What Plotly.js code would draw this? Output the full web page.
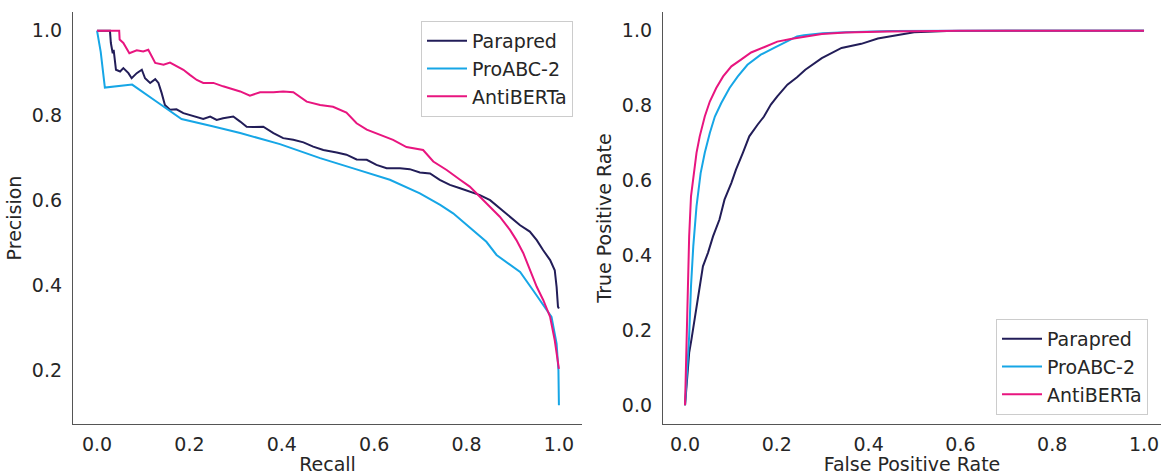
<!DOCTYPE html>
<html>
<head>
<meta charset="utf-8">
<script src="https://cdn.plot.ly/plotly-3.0.1.min.js"></script>
<style>html,body{margin:0;padding:0;background:#fff;}#chart{width:1161px;height:475px;}</style>
</head>
<body>
<div id="chart"></div>
<script>
// ---- Data ----
const seriesNames = ["Parapred", "ProABC-2", "AntiBERTa"];
const seriesColors = ["#221d58", "#16a6e6", "#e8157f"];

// Precision-Recall curves
const prParapredRecall = [0, 0.028, 0.030, 0.034, 0.036, 0.041, 0.050, 0.057, 0.068, 0.075, 0.086, 0.097, 0.104, 0.115, 0.126, 0.133, 0.140, 0.147, 0.158, 0.172, 0.187, 0.201, 0.216, 0.230, 0.245, 0.259, 0.273, 0.295, 0.310, 0.324, 0.338, 0.360, 0.382, 0.403, 0.425, 0.447, 0.468, 0.490, 0.519, 0.540, 0.562, 0.584, 0.605, 0.627, 0.656, 0.677, 0.699, 0.721, 0.742, 0.764, 0.786, 0.807, 0.829, 0.851, 0.872, 0.894, 0.916, 0.937, 0.952, 0.966, 0.981, 0.991, 0.995, 0.998, 1.0];
const prParapredPrecision = [1.0, 1.0, 0.971, 0.947, 0.955, 0.908, 0.904, 0.912, 0.900, 0.888, 0.900, 0.908, 0.888, 0.877, 0.886, 0.877, 0.853, 0.825, 0.814, 0.815, 0.806, 0.802, 0.796, 0.792, 0.798, 0.790, 0.794, 0.798, 0.786, 0.774, 0.773, 0.774, 0.759, 0.747, 0.743, 0.737, 0.727, 0.719, 0.713, 0.708, 0.697, 0.696, 0.684, 0.676, 0.676, 0.674, 0.666, 0.664, 0.649, 0.637, 0.629, 0.621, 0.613, 0.601, 0.582, 0.562, 0.542, 0.527, 0.507, 0.483, 0.460, 0.436, 0.397, 0.350, 0.346];

const prProabcRecall = [0, 0.008, 0.017, 0.076, 0.13, 0.183, 0.25, 0.31, 0.396, 0.483, 0.56, 0.634, 0.699, 0.743, 0.771, 0.80, 0.843, 0.865, 0.916, 0.944, 0.966, 0.984, 0.995, 0.999, 1.0];
const prProabcPrecision = [1.0, 0.95, 0.866, 0.873, 0.832, 0.792, 0.775, 0.759, 0.733, 0.700, 0.674, 0.649, 0.617, 0.590, 0.570, 0.543, 0.503, 0.472, 0.432, 0.389, 0.354, 0.326, 0.263, 0.200, 0.118];

const prAntibertaRecall = [0, 0.048, 0.049, 0.057, 0.070, 0.086, 0.100, 0.111, 0.126, 0.144, 0.158, 0.172, 0.187, 0.201, 0.216, 0.230, 0.252, 0.273, 0.295, 0.310, 0.331, 0.353, 0.382, 0.403, 0.425, 0.454, 0.483, 0.511, 0.540, 0.562, 0.584, 0.613, 0.641, 0.670, 0.699, 0.706, 0.728, 0.757, 0.786, 0.807, 0.829, 0.851, 0.872, 0.894, 0.908, 0.923, 0.937, 0.952, 0.966, 0.981, 0.991, 0.996, 1.0];
const prAntibertaPrecision = [1.0, 1.0, 0.979, 0.971, 0.947, 0.954, 0.951, 0.955, 0.924, 0.920, 0.925, 0.916, 0.908, 0.896, 0.884, 0.877, 0.877, 0.869, 0.861, 0.857, 0.847, 0.855, 0.855, 0.857, 0.855, 0.833, 0.825, 0.821, 0.807, 0.782, 0.767, 0.755, 0.743, 0.726, 0.721, 0.719, 0.692, 0.672, 0.649, 0.633, 0.609, 0.586, 0.562, 0.531, 0.507, 0.476, 0.436, 0.397, 0.366, 0.326, 0.271, 0.232, 0.204];

// ROC curves
const rocParapredFpr = [0, 0.006, 0.009, 0.014, 0.022, 0.029, 0.039, 0.050, 0.061, 0.075, 0.086, 0.101, 0.111, 0.126, 0.140, 0.158, 0.172, 0.187, 0.201, 0.223, 0.244, 0.262, 0.298, 0.341, 0.384, 0.420, 0.463, 0.499, 0.571, 0.7, 1.0];
const rocParapredTpr = [0, 0.096, 0.140, 0.176, 0.238, 0.300, 0.371, 0.407, 0.451, 0.496, 0.549, 0.594, 0.629, 0.674, 0.718, 0.749, 0.771, 0.803, 0.825, 0.856, 0.876, 0.896, 0.927, 0.954, 0.965, 0.979, 0.989, 0.996, 0.999, 1.0, 1.0];

const rocProabcFpr = [0, 0.009, 0.013, 0.018, 0.025, 0.034, 0.043, 0.054, 0.065, 0.079, 0.097, 0.115, 0.136, 0.165, 0.194, 0.223, 0.244, 0.259, 0.30, 0.35, 0.45, 0.6, 1.0];
const rocProabcTpr = [0, 0.185, 0.318, 0.425, 0.531, 0.620, 0.674, 0.727, 0.771, 0.807, 0.847, 0.878, 0.909, 0.936, 0.954, 0.971, 0.985, 0.988, 0.993, 0.996, 0.999, 1.0, 1.0];

const rocAntibertaFpr = [0, 0.006, 0.009, 0.013, 0.018, 0.025, 0.032, 0.043, 0.054, 0.068, 0.083, 0.101, 0.122, 0.144, 0.172, 0.201, 0.230, 0.259, 0.298, 0.35, 0.442, 0.6, 1.0];
const rocAntibertaTpr = [0, 0.318, 0.451, 0.558, 0.611, 0.674, 0.718, 0.771, 0.811, 0.847, 0.878, 0.905, 0.923, 0.942, 0.956, 0.971, 0.978, 0.984, 0.991, 0.995, 0.998, 1.0, 1.0];

const tickValsPR = [0.2, 0.4, 0.6, 0.8, 1.0];
const tickValsUnit = [0.0, 0.2, 0.4, 0.6, 0.8, 1.0];

// ---- Traces ----
const prX = [prParapredRecall, prProabcRecall, prAntibertaRecall];
const prY = [prParapredPrecision, prProabcPrecision, prAntibertaPrecision];
const rocX = [rocParapredFpr, rocProabcFpr, rocAntibertaFpr];
const rocY = [rocParapredTpr, rocProabcTpr, rocAntibertaTpr];

const traces = [];
for (let i = 0; i < 3; i++) {
  traces.push({x: prX[i], y: prY[i], type: 'scatter', mode: 'lines', name: seriesNames[i],
    line: {color: seriesColors[i], width: 2}, xaxis: 'x', yaxis: 'y', legend: 'legend'});
}
for (let i = 0; i < 3; i++) {
  traces.push({x: rocX[i], y: rocY[i], type: 'scatter', mode: 'lines', name: seriesNames[i],
    line: {color: seriesColors[i], width: 2}, xaxis: 'x2', yaxis: 'y2', legend: 'legend2'});
}

const FONT = 'DejaVu Sans, sans-serif';
const TXT = '#262626';
const FS = 19;
const axisBase = {
  showline: true, linecolor: '#555555', linewidth: 1.25, mirror: false,
  showgrid: false, zeroline: false, ticks: '', tickformat: '.1f',
  tickfont: {family: FONT, size: FS, color: TXT}, ticklabeloverflow: 'allow',
  automargin: false, fixedrange: true
};
const legendBase = {
  bgcolor: 'rgba(255,255,255,0.9)', bordercolor: '#cccccc', borderwidth: 1,
  font: {family: FONT, size: FS, color: TXT}, itemwidth: 40, tracegroupgap: 0
};
const titleFont = {family: FONT, size: FS, color: TXT};

const layout = {
  width: 1161, height: 475,
  margin: {l: 0, r: 0, t: 0, b: 0, autoexpand: false},
  paper_bgcolor: '#ffffff', plot_bgcolor: '#ffffff',
  font: {family: FONT, size: FS, color: TXT},
  xaxis: Object.assign({}, axisBase, {domain: [73/1161, 582/1161], range: [-0.052, 1.05], anchor: 'y',
    tickvals: tickValsUnit, ticklabelstandoff: 3, title: {text: 'Recall', standoff: 4, font: titleFont}}),
  yaxis: Object.assign({}, axisBase, {domain: [1 - 424/475, 1 - 12/475], range: [0.074, 1.044], anchor: 'x',
    tickvals: tickValsPR, ticklabelstandoff: 6, title: {text: 'Precision', standoff: 5, font: titleFont}}),
  xaxis2: Object.assign({}, axisBase, {domain: [663/1161, 1.0], range: [-0.048, 1.037], anchor: 'y2',
    tickvals: tickValsUnit, ticklabelstandoff: 3, title: {text: 'False Positive Rate', standoff: 4, font: titleFont}}),
  yaxis2: Object.assign({}, axisBase, {domain: [1 - 424/475, 1 - 12/475], range: [-0.05, 1.05], anchor: 'x2',
    tickvals: tickValsUnit, ticklabelstandoff: 6, title: {text: 'True Positive Rate', standoff: 5, font: titleFont}}),
  legend: Object.assign({}, legendBase, {x: 573/1161, xanchor: 'right', y: 1 - 21/475, yanchor: 'top', xref: 'paper', yref: 'paper'}),
  legend2: Object.assign({}, legendBase, {x: 996/1161, xanchor: 'left', y: 1 - 415/475, yanchor: 'bottom', xref: 'paper', yref: 'paper'}),
  showlegend: true
};

Plotly.newPlot('chart', traces, layout, {displayModeBar: false, responsive: false});
</script>
</body>
</html>
